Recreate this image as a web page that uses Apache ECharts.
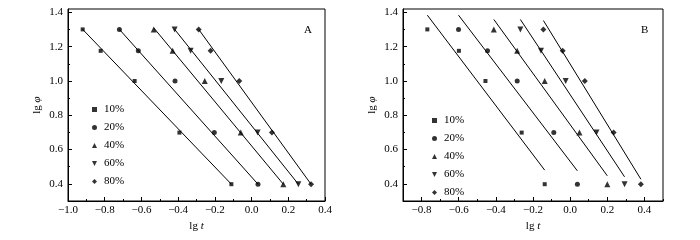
<!DOCTYPE html>
<html>
<head>
<meta charset="utf-8">
<script src="https://cdn.jsdelivr.net/npm/echarts@6/dist/echarts.min.js"></script>
<style>
    html, body {margin: 0; padding: 0; background: #fff;}
    #chart {width: 700px; height: 240px;}
</style>
</head>
<body>
<div id="chart"></div>
<script>
// 浓度图例
var names = ['10%', '20%', '40%', '60%', '80%'];
var symbols = ['rect', 'circle', 'triangle', 'path://M0,0L2,0L1,2Z', 'diamond'];
var symbolSizes = [4, 5, 6, 6, 6];
// lg φ 的取值（每个浓度相同）
var lgPhi = [1.301, 1.176, 1.0, 0.699, 0.398];
// 图A 各浓度的 lg t
var lgtA = [
    [-0.920, -0.822, -0.637, -0.393, -0.110],
    [-0.720, -0.617, -0.417, -0.203, 0.035],
    [-0.533, -0.430, -0.255, -0.059, 0.173],
    [-0.419, -0.332, -0.165, 0.033, 0.255],
    [-0.288, -0.223, -0.067, 0.111, 0.324]
];
// 图B 各浓度的 lg t
var lgtB = [
    [-0.769, -0.599, -0.456, -0.261, -0.137],
    [-0.601, -0.445, -0.285, -0.088, 0.039],
    [-0.411, -0.285, -0.137, 0.050, 0.200],
    [-0.268, -0.157, -0.024, 0.142, 0.293],
    [-0.144, -0.040, 0.079, 0.234, 0.381]
];
// 拟合直线端点
var fitAx = [[-0.920, -0.110], [-0.720, 0.035], [-0.533, 0.173], [-0.419, 0.255], [-0.288, 0.324]];
var fitAy = [[1.301, 0.398], [1.301, 0.398], [1.310, 0.398], [1.301, 0.398], [1.301, 0.398]];
var fitBx = [[-0.769, -0.137], [-0.601, 0.039], [-0.411, 0.200], [-0.268, 0.293], [-0.144, 0.381]];
var fitBy = [[1.384, 0.480], [1.384, 0.476], [1.359, 0.447], [1.359, 0.441], [1.353, 0.427]];
// 刻度
var xMajorA = [-1.0, -0.8, -0.6, -0.4, -0.2, 0.0, 0.2, 0.4];
var xMinorA = [-0.9, -0.7, -0.5, -0.3, -0.1, 0.1, 0.3];
var xMajorB = [-0.8, -0.6, -0.4, -0.2, 0.0, 0.2, 0.4];
var xMinorB = [-0.9, -0.7, -0.5, -0.3, -0.1, 0.1, 0.3, 0.5];
var yMajor = [0.4, 0.6, 0.8, 1.0, 1.2, 1.4];
var yMinor = [0.3, 0.5, 0.7, 0.9, 1.1, 1.3];

var font = 'Liberation Serif';
var fmt = function (v) {
    return v.toFixed(1).replace('-', '\u2212');
};

var xAxisDef = function (grid, min, max, major, minor) {
    return [{
        type: 'value', gridIndex: grid, min: min, max: max, position: 'bottom',
        name: '{a|lg }{b|t}', nameLocation: 'middle', nameGap: 16,
        nameTextStyle: {
            rich: {
                a: {fontFamily: font, fontSize: 11, color: '#000'},
                b: {fontFamily: font, fontSize: 11, color: '#000', fontStyle: 'italic'}
            }
        },
        splitLine: {show: false},
        axisLine: {onZero: false, lineStyle: {color: '#000', width: 1}},
        axisTick: {inside: true, length: 4, customValues: major, lineStyle: {color: '#000'}},
        axisLabel: {customValues: major, formatter: fmt, fontFamily: font, fontSize: 11, color: '#000', margin: 4}
    }, {
        type: 'value', gridIndex: grid, min: min, max: max, position: 'bottom',
        splitLine: {show: false},
        axisLine: {show: false, onZero: false},
        axisTick: {inside: true, length: 2, customValues: minor, lineStyle: {color: '#000'}},
        axisLabel: {show: false}
    }];
};

var yAxisDef = function (grid) {
    return [{
        type: 'value', gridIndex: grid, min: 0.3, max: 1.42, position: 'left',
        name: '{a|lg }{b|φ}', nameLocation: 'middle', nameGap: 25, nameRotate: 90,
        nameTextStyle: {
            rich: {
                a: {fontFamily: font, fontSize: 11, color: '#000'},
                b: {fontFamily: font, fontSize: 11, color: '#000', fontStyle: 'italic'}
            }
        },
        splitLine: {show: false},
        axisLine: {onZero: false, lineStyle: {color: '#000', width: 1}},
        axisTick: {inside: true, length: 4, customValues: yMajor, lineStyle: {color: '#000'}},
        axisLabel: {customValues: yMajor, formatter: function (v) { return v.toFixed(1); },
            fontFamily: font, fontSize: 11, color: '#000', margin: 5}
    }, {
        type: 'value', gridIndex: grid, min: 0.3, max: 1.42, position: 'left',
        splitLine: {show: false},
        axisLine: {show: false, onZero: false},
        axisTick: {inside: true, length: 2, customValues: yMinor, lineStyle: {color: '#000'}},
        axisLabel: {show: false}
    }];
};

var series = [];
var addPanel = function (lgt, fitX, fitY, xIdx, yIdx) {
    for (var i = 0; i < names.length; i++) {
        var pts = [];
        for (var j = 0; j < lgPhi.length; j++) {
            pts.push([lgt[i][j], lgPhi[j]]);
        }
        series.push({
            name: names[i], type: 'scatter', xAxisIndex: xIdx, yAxisIndex: yIdx,
            symbol: symbols[i], symbolSize: symbolSizes[i],
            itemStyle: {color: '#000'}, z: 3,
            data: pts
        });
        series.push({
            name: 'fit', type: 'line', xAxisIndex: xIdx, yAxisIndex: yIdx,
            symbol: 'none', silent: true,
            lineStyle: {color: '#000', width: 1},
            data: [[fitX[i][0], fitY[i][0]], [fitX[i][1], fitY[i][1]]]
        });
    }
};
addPanel(lgtA, fitAx, fitAy, 0, 0);
addPanel(lgtB, fitBx, fitBy, 2, 2);

var legendDef = function (left, top) {
    return {
        orient: 'vertical', left: left, top: top, data: names,
        itemWidth: 5, itemHeight: 5, itemGap: 7, selectedMode: false,
        textStyle: {fontFamily: font, fontSize: 11, color: '#000', padding: [0, 0, 0, 2]}
    };
};

var chart = echarts.init(document.getElementById('chart'), null, {renderer: 'canvas'});
chart.setOption({
    animation: false,
    backgroundColor: '#fff',
    grid: [
        {left: 68, top: 9, width: 257, height: 192, show: true, borderColor: '#000', borderWidth: 1},
        {left: 403, top: 9, width: 260, height: 192, show: true, borderColor: '#000', borderWidth: 1}
    ],
    title: [
        {text: 'A', left: 299, top: 20, textStyle: {fontFamily: font, fontSize: 11, fontWeight: 'normal', color: '#000'}},
        {text: 'B', left: 636, top: 20, textStyle: {fontFamily: font, fontSize: 11, fontWeight: 'normal', color: '#000'}}
    ],
    legend: [legendDef(87, 99), legendDef(427, 110)],
    xAxis: xAxisDef(0, -1.0, 0.4, xMajorA, xMinorA).concat(xAxisDef(1, -0.9, 0.5, xMajorB, xMinorB)),
    yAxis: yAxisDef(0).concat(yAxisDef(1)),
    series: series
});
</script>
</body>
</html>
